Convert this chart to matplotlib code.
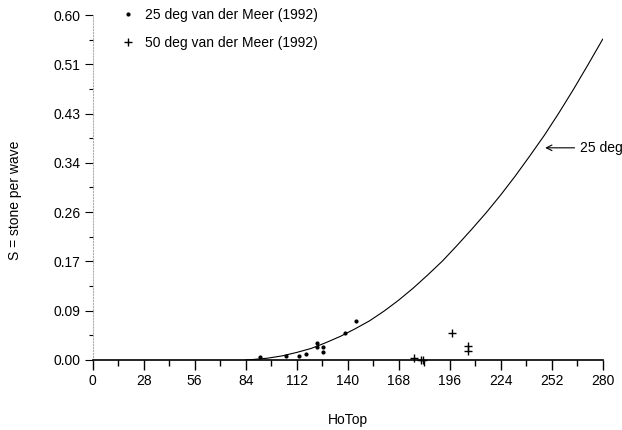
import numpy as np
import matplotlib
matplotlib.use("Agg")
import matplotlib.pyplot as plt

plt.rcParams['font.family'] = ['Liberation Sans', 'DejaVu Sans']
plt.rcParams['font.size'] = 10

# fitted curve for 25 deg
curve_h = [84, 88, 96, 104, 112, 120, 128, 136, 144, 152, 160, 168, 176, 184,
           192, 200, 208, 216, 224, 232, 240, 248, 256, 264, 272, 280]
curve_s = [0.0, 0.0007, 0.003, 0.007, 0.013, 0.020, 0.030, 0.041, 0.054, 0.068,
           0.085, 0.104, 0.125, 0.148, 0.172, 0.199, 0.227, 0.256, 0.287, 0.320,
           0.355, 0.391, 0.430, 0.471, 0.514, 0.558]

# 25 deg van der Meer (1992)
h25 = [92, 106, 113.5, 117, 123.3, 123.3, 126.3, 126.3, 138.6, 144.6]
s25 = [0.005, 0.007, 0.006, 0.011, 0.030, 0.022, 0.023, 0.014, 0.047, 0.067]

# 50 deg van der Meer (1992)
h50 = [176.6, 180.3, 181.6, 197.1, 206.3, 206.3]
s50 = [0.004, -0.001, -0.001, 0.046, 0.025, 0.016]

y_ticks = np.linspace(0, 0.6, 8)
y_labels = ['0.00', '0.09', '0.17', '0.26', '0.34', '0.43', '0.51', '0.60']
x_ticks = np.arange(0, 281, 28)

fig = plt.figure(figsize=(6.22, 4.30), dpi=100)
ax = fig.add_axes([0.149, 0.163, 0.820, 0.802])

ax.plot(curve_h, curve_s, color='black', lw=0.8)
ax.plot(h25, s25, 'o', color='black', ms=2.0, clip_on=False,
        label='25 deg van der Meer (1992)')
ax.plot(h50, s50, '+', color='black', ms=6, mew=1.0, clip_on=False,
        label='50 deg van der Meer (1992)')

ax.annotate('25 deg', xy=(248.4, 0.369), xytext=(267.6, 0.369), va='center',
            annotation_clip=False,
            arrowprops=dict(arrowstyle='->', lw=0.8, color='black',
                            shrinkA=2, shrinkB=0))

ax.set_xlim(0, 280)
ax.set_ylim(0, 0.6)
ax.set_xticks(x_ticks)
ax.set_xticks(np.arange(14, 280, 28), minor=True)
ax.set_yticks(y_ticks)
ax.set_yticklabels(y_labels)
ax.set_yticks((y_ticks[:-1] + y_ticks[1:]) / 2, minor=True)

ax.spines['top'].set_visible(False)
ax.spines['right'].set_visible(False)
ax.spines['bottom'].set_linewidth(1.2)
ax.spines['left'].set_color('#b0b0b0')
ax.spines['left'].set_linestyle(':')
ax.spines['left'].set_linewidth(0.8)

ax.tick_params(axis='x', which='major', length=7, width=1, pad=3)
ax.tick_params(axis='x', which='minor', length=4, width=1)
ax.tick_params(axis='y', which='major', length=6, width=0.8, pad=3)
ax.tick_params(axis='y', which='minor', length=3, width=0.8)

ax.set_xlabel('HoTop')
ax.xaxis.set_label_coords(0.5, -0.154)
ax.set_ylabel('S = stone per wave')
ax.yaxis.set_label_coords(-0.139, 0.464)

ax.legend(loc='upper left', bbox_to_anchor=(0.0555, 1.021), frameon=False,
          borderpad=0, handlelength=1.0, handletextpad=0.75, labelspacing=1.0,
          borderaxespad=0)

fig.savefig('out.png', dpi=100)
